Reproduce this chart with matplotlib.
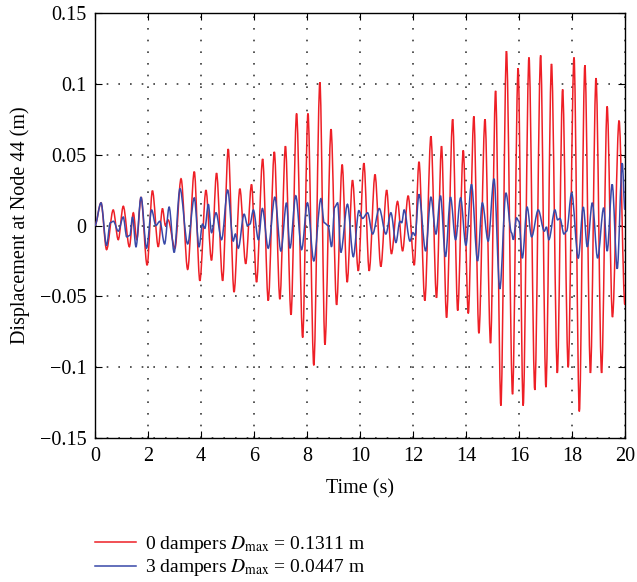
import matplotlib
matplotlib.use("Agg")
import matplotlib.pyplot as plt
from matplotlib.path import Path
from matplotlib.patches import PathPatch
from matplotlib.lines import Line2D

# peaks / troughs (time in s, displacement in m)
red_t = [0, 0.23, 0.44, 0.69, 0.88, 1.07, 1.30, 1.45, 1.58, 1.74, 1.97, 2.17,
         2.39, 2.55, 2.66, 2.76, 3.02, 3.25, 3.50, 3.75, 3.96, 4.19, 4.40, 4.59,
         4.82, 5.03, 5.25, 5.47, 5.69, 5.91, 6.10, 6.33, 6.54, 6.77, 6.98, 7.19,
         7.40, 7.61, 7.84, 8.04, 8.26, 8.49, 8.68, 8.91, 9.12, 9.33, 9.52, 9.72,
         9.94, 10.15, 10.35, 10.57, 10.79, 11.01, 11.19, 11.42, 11.61, 11.82,
         12.05, 12.23, 12.45, 12.68, 12.89, 13.08, 13.27, 13.50, 13.69, 13.90,
         14.09, 14.30, 14.49, 14.72, 14.93, 15.12, 15.32, 15.53, 15.76, 15.97,
         16.16, 16.38, 16.60, 16.82, 17.02, 17.23, 17.45, 17.65, 17.86, 18.08,
         18.28, 18.49, 18.70, 18.91, 19.12, 19.33, 19.53, 19.78, 20.0]
red_v = [0, 0.016, -0.017, 0.011, -0.010, 0.0136, -0.015, 0.009, -0.010, 0.020,
         -0.028, 0.0246, -0.015, 0.012, 0.0, 0.004, -0.016, 0.033, -0.031, 0.038,
         -0.039, 0.025, -0.0246, 0.037, -0.039, 0.054, -0.047, 0.026, -0.027,
         0.029, -0.040, 0.047, -0.053, 0.052, -0.052, 0.056, -0.063, 0.079,
         -0.079, 0.079, -0.0986, 0.101, -0.084, 0.068, -0.056, 0.043, -0.040,
         0.032, -0.032, 0.044, -0.032, 0.036, -0.029, 0.025, -0.020, 0.017,
         -0.018, 0.021, -0.028, 0.045, -0.053, 0.063, -0.051, 0.056, -0.065,
         0.075, -0.060, 0.053, -0.062, 0.077, -0.076, 0.075, -0.083, 0.095,
         -0.127, 0.123, -0.119, 0.111, -0.127, 0.1185, -0.116, 0.120, -0.114,
         0.114, -0.104, 0.096, -0.100, 0.1185, -0.1311, 0.113, -0.104, 0.104,
         -0.104, 0.084, -0.0646, 0.074, -0.056]

blue_t = [0, 0.23, 0.44, 0.58, 0.70, 0.88, 1.07, 1.20, 1.32, 1.42, 1.55, 1.74,
          1.95, 2.14, 2.30, 2.45, 2.63, 2.80, 2.99, 3.21, 3.50, 3.75, 3.93, 4.06,
          4.15, 4.28, 4.40, 4.57, 4.78, 5.01, 5.22, 5.30, 5.41, 5.63, 5.76, 5.85,
          5.98, 6.17, 6.32, 6.54, 6.79, 7.02, 7.23, 7.36, 7.58, 7.80, 8.02, 8.26,
          8.53, 8.65, 8.80, 8.93, 9.05, 9.16, 9.28, 9.53, 9.75, 9.96, 10.10,
          10.29, 10.48, 10.73, 10.98, 11.17, 11.36, 11.51, 11.58, 11.67, 11.89,
          12.00, 12.08, 12.23, 12.48, 12.68, 12.87, 13.04, 13.23, 13.42, 13.61,
          13.80, 14.00, 14.21, 14.44, 14.62, 14.84, 15.06, 15.28, 15.51, 15.72,
          15.79, 15.91, 16.00, 16.13, 16.31, 16.48, 16.73, 16.96, 17.04, 17.13,
          17.36, 17.46, 17.55, 17.70, 17.80, 17.99, 18.24, 18.43, 18.58, 18.77,
          18.97, 19.20, 19.33, 19.52, 19.71, 19.90, 20.0]
blue_v = [0, 0.016, -0.014, 0.002, 0.003, -0.004, 0.006, -0.008, -0.007, 0.006,
          -0.015, 0.020, -0.016, 0.011, 0.0, 0.003, -0.013, 0.013, -0.019, 0.026,
          -0.013, 0.0195, -0.015, 0.001, -0.002, 0.015, -0.005, 0.009, -0.010,
          0.025, -0.011, -0.006, -0.016, 0.008, 0.0, 0.001, 0.011, -0.010, 0.012,
          -0.016, 0.020, -0.018, 0.016, -0.016, 0.021, -0.017, 0.016, -0.025,
          0.019, 0.002, 0.0, -0.015, 0.013, 0.016, -0.019, 0.015, -0.022, 0.0105,
          0.005, 0.009, -0.006, 0.012, -0.006, 0.009, -0.012, 0.003, 0.002, 0.011,
          -0.011, -0.005, -0.007, 0.022, -0.018, 0.020, -0.006, 0.021, -0.022,
          0.020, -0.010, 0.0195, -0.014, 0.029, -0.025, 0.016, -0.011, 0.033,
          -0.0447, 0.023, -0.005, -0.010, 0.0054, 0.003, -0.023, 0.013, -0.008,
          0.011, -0.004, -0.001, -0.010, 0.011, 0.004, 0.005, -0.006, -0.004,
          0.023, -0.023, 0.013, -0.015, 0.016, -0.023, 0.0125, -0.018, 0.029,
          -0.0305, 0.044, 0.011]

labels = [r"0 dampers $D_{\mathrm{max}}$ = 0.1311 m",
          r"3 dampers $D_{\mathrm{max}}$ = 0.0447 m"]
red = "#ee1f26"
blue = "#3848a8"


def wave_path(ts, vs):
    # smooth curve through the extrema, flat tangent at each one
    verts = [(ts[0], vs[0])]
    codes = [Path.MOVETO]
    for i in range(1, len(ts)):
        dt = ts[i] - ts[i - 1]
        verts += [(ts[i - 1] + dt / 3, vs[i - 1]),
                  (ts[i] - dt / 3, vs[i]),
                  (ts[i], vs[i])]
        codes += [Path.CURVE4] * 3
    return Path(verts, codes)


def main():
    plt.rcParams["font.family"] = ["Liberation Serif", "DejaVu Serif"]
    plt.rcParams["mathtext.fontset"] = "stix"
    fs = 14.5

    fig = plt.figure(figsize=(6.37, 5.82), dpi=100)
    ax = fig.add_axes([0.149, 0.247, 0.832, 0.731])

    ax.add_patch(PathPatch(wave_path(red_t, red_v), fill=False,
                           edgecolor=red, lw=1.1, zorder=3))
    ax.add_patch(PathPatch(wave_path(blue_t, blue_v), fill=False,
                           edgecolor=blue, lw=1.1, zorder=4))

    ax.set_xlim(0, 20)
    ax.set_ylim(-0.15, 0.15)
    ax.set_xticks(range(0, 21, 2))
    ax.set_yticks([-0.15, -0.1, -0.05, 0, 0.05, 0.1, 0.15])
    ax.set_yticklabels(["\u22120.15", "\u22120.1", "\u22120.05", "0",
                        "0.05", "0.1", "0.15"])
    ax.tick_params(direction="in", top=True, right=True, length=5,
                   width=0.8, labelsize=fs, pad=6)
    ax.grid(True, color="#3a3a3a", linestyle=(0, (1, 6)), linewidth=1.2)
    ax.set_axisbelow(True)
    for s in ax.spines.values():
        s.set_linewidth(1.0)

    ax.set_xlabel("Time (s)", fontsize=fs, labelpad=10)
    ax.set_ylabel("Displacement at Node 44 (m)", fontsize=fs, labelpad=7)

    handles = [Line2D([], [], color=red, lw=1.1),
               Line2D([], [], color=blue, lw=1.1)]
    fig.legend(handles, labels, loc="upper left", bbox_to_anchor=(0.143, 0.089),
               frameon=False, fontsize=14, handlelength=2.1,
               handletextpad=0.45, labelspacing=0.12, borderaxespad=0.0,
               borderpad=0.2)

    fig.savefig("out.png", dpi=100)


if __name__ == "__main__":
    main()
